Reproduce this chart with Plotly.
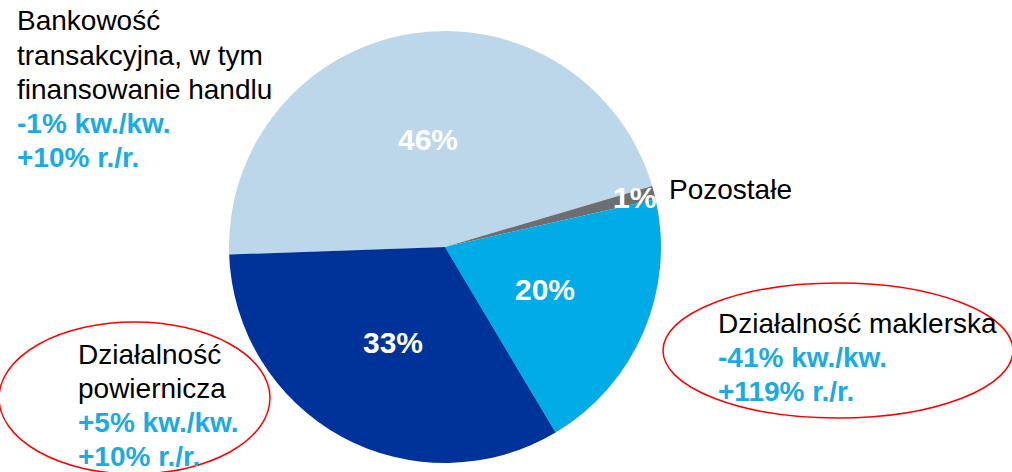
import math
import plotly.graph_objects as go

# ---- data ----
segments = ["Bankowość transakcyjna, w tym finansowanie handlu", "Pozostałe",
            "Działalność maklerska", "Działalność powiernicza"]
shares = [46, 1, 20, 33]
share_labels = ["46%", "1%", "20%", "33%"]
colors = ["#BDD7EA", "#6D6E71", "#00ABE6", "#003399"]

block_bank_names = ["Bankowość", "transakcyjna, w tym", "finansowanie handlu"]
block_bank_changes = ["-1% kw./kw.", "+10% r./r."]
block_other_names = ["Pozostałe"]
block_broker_names = ["Działalność maklerska"]
block_broker_changes = ["-41% kw./kw.", "+119% r./r."]
block_custody_names = ["Działalność", "powiernicza"]
block_custody_changes = ["+5% kw./kw.", "+10% r./r."]

W, H = 1012, 472
CX, CY, R = 445, 247, 216
ROT = 268
BLUE_TXT = "#1BAAE2"
FONT = "Liberation Sans, Arial, sans-serif"

fig = go.Figure()
fig.add_trace(go.Pie(
    labels=segments, values=shares, sort=False, direction="clockwise",
    rotation=ROT, marker=dict(colors=colors, line=dict(width=0)),
    textinfo="none", hoverinfo="label+percent", showlegend=False,
    domain=dict(x=[(CX - R) / W, (CX + R) / W], y=[1 - (CY + R) / H, 1 - (CY - R) / H]),
))

ann = []
def px(x, y):
    return x / W, 1 - y / H

# in-slice labels computed from the data
total = sum(shares)
cum = 0
for v, lab in zip(shares, share_labels):
    mid = math.radians(ROT + 360 * (cum + v / 2) / total)
    rf = 0.905 if v / total < 0.05 else 0.505
    x = CX + rf * R * math.sin(mid)
    y = CY - rf * R * math.cos(mid)
    ax, ay = px(x, y)
    ann.append(dict(x=ax, y=ay, xref="paper", yref="paper", text=f"<b>{lab}</b>",
                    showarrow=False, xanchor="center", yanchor="middle",
                    font=dict(family=FONT, size=30, color="white")))
    cum += v

def block(x_left, baselines, names, changes):
    lines = [(t, False) for t in names] + [(t, True) for t in changes]
    for (t, bold), b in zip(lines, baselines):
        ax, ay = px(x_left, b - 9.7)
        ann.append(dict(x=ax, y=ay, xref="paper", yref="paper",
                        text=f"<b>{t}</b>" if bold else t, showarrow=False,
                        xanchor="left", yanchor="middle", borderpad=0,
                        font=dict(family=FONT, size=28, color=BLUE_TXT if bold else "black")))

block(16, [30, 65, 99, 133, 167], block_bank_names, block_bank_changes)
block(668, [199], block_other_names, [])
block(717, [333, 367, 401], block_broker_names, block_broker_changes)
block(77, [364, 398, 432, 466], block_custody_names, block_custody_changes)

shapes = [
    dict(type="circle", xref="paper", yref="paper",
         x0=663 / W, x1=1013 / W, y0=1 - 418 / H, y1=1 - 283 / H,
         line=dict(color="#FF0000", width=1.5)),
    dict(type="circle", xref="paper", yref="paper",
         x0=-1 / W, x1=270 / W, y0=1 - 474 / H, y1=1 - 322 / H,
         line=dict(color="#FF0000", width=1.5)),
]

fig.update_layout(width=W, height=H, margin=dict(l=0, r=0, t=0, b=0),
                  paper_bgcolor="white", plot_bgcolor="white",
                  annotations=ann, shapes=shapes, showlegend=False)
fig.write_html("out.html", config={"displayModeBar": False},
               post_script="document.body.style.margin='0';document.body.style.overflow='hidden';")
